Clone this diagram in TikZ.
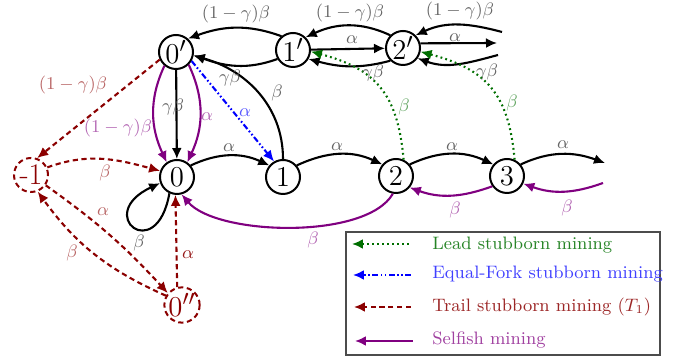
\documentclass[tikz,border=0pt]{standalone}
\usetikzlibrary{arrows.meta}
\definecolor{dgreen}{RGB}{0,110,0}
\definecolor{dred}{RGB}{139,0,0}
\definecolor{dpurple}{RGB}{128,0,128}
\definecolor{dblue}{RGB}{0,0,255}
\begin{document}
\begin{tikzpicture}[x=0.5pt,y=0.5pt,
  st/.style={circle,draw,line width=1pt,minimum size=17pt,inner sep=0pt,font=\fontsize{15}{18}\selectfont},
  dst/.style={st,draw=dred,text=dred,dash pattern=on 2.6pt off 1.8pt},
  arr/.style={-{Latex[length=5.5pt,width=5pt]},line width=1.05pt},
  blk/.style={arr,black},
  sel/.style={arr,dpurple},
  trl/.style={arr,dred,dash pattern=on 2.6pt off 1.8pt},
  lead/.style={arr,dgreen,dash pattern=on 0.9pt off 1.6pt},
  eqf/.style={arr,dblue,dash pattern=on 3pt off 1.2pt on 0.8pt off 1.2pt on 0.8pt off 1.2pt},
  lab/.style={font=\fontsize{9.5}{11}\selectfont,inner sep=1pt},
  lk/.style={lab,text=black!60},
  lg/.style={lab,text=dgreen!60},
  lb/.style={lab,text=dblue!65},
  lp/.style={lab,text=dpurple!60},
  lr/.style={lab,text=dred!60},
  lrd/.style={lab,text=dred!90},
  leg/.style={anchor=west,font=\fontsize{9}{11}\selectfont,inner sep=0pt}
]
\useasboundingbox (0,0) rectangle (677,358);
% states
\node[st] (p0) at (176,306) {$0'$};
\node[st] (p1) at (293,308) {$1'$};
\node[st] (p2) at (403,310) {$2'$};
\node[st] (s0) at (177,181) {$0$};
\node[st] (s1) at (283,181) {$1$};
\node[st] (s2) at (396,182) {$2$};
\node[st] (s3) at (507,182) {$3$};
\node[dst] (m1) at (31,183) {-1};
\node[dst] (pp) at (182,53) {$0''$};
\coordinate (r1) at (497,315);
\coordinate (r2) at (502,326);
\coordinate (r3) at (498,303);
\coordinate (r4) at (605,195);
\coordinate (r5) at (603,175);
% top row
\draw[blk] (p1.130) to[out=160,in=20] (p0.48);
\draw[blk] (p1.-150) to[out=-160,in=-20] (p0.-10);
\draw[blk] (s1.90) to[out=90,in=-15] (p0.-12);
\draw[blk] (p1) -- (p2);
\draw[blk] (p2.135) to[out=155,in=25] (p1.45);
\draw[blk] (p2.-135) to[out=-165,in=-15] (p1.-30);
\draw[blk] (p2.15) -- (r1);
\draw[blk] (r2) to[out=165,in=25] (p2.45);
\draw[blk] (r3) to[out=-165,in=-20] (p2.-35);
% lead stubborn
\draw[lead] (s2.65) to[out=95,in=-15,looseness=1.2] (p1.-5);
\draw[lead] (s3.65) to[out=95,in=-15,looseness=1.2] (p2.-12);
% equal fork
\draw[eqf] (p0.-30) -- (s1.120);
% 0' -> 0
\draw[blk] (p0) -- (s0);
\draw[sel] (p0.-130) to[out=-115,in=115] (s0.125);
\draw[sel] (p0.-45) to[out=-65,in=65] (s0.55);
% bottom row
\draw[blk] (s0.40) to[out=25,in=155] (s1.140);
\draw[blk] (s1.40) to[out=25,in=155] (s2.140);
\draw[blk] (s2.40) to[out=25,in=155] (s3.140);
\draw[blk] (s3.40) to[out=25,in=160] (r4);
\draw[blk] (s0.-115) .. controls +(-100:74) and +(205:74) .. (s0.200);
\draw[sel] (s2.-100) to[out=-120,in=-50,looseness=0.65] (s0.-75);
\draw[sel] (s3.-145) to[out=-160,in=-20] (s2.-40);
\draw[sel] (r5) to[out=-160,in=-20] (s3.-25);
% trail stubborn
\draw[trl] (p0.-155) -- (m1.70);
\draw[trl] (m1.25) to[out=20,in=165] (s0.160);
\draw[trl] (m1.-35) to[bend left=6] (pp.140);
\draw[trl] (pp.150) to[bend left=15] (m1.-68);
\draw[trl] (pp.105) -- (s0.-95);
% labels
\node[lk] (la1) at (236,344) {$(1-\gamma)\beta$};
\node[lk] (la2) at (350,345) {$(1-\gamma)\beta$};
\node[lk] (la3) at (460,347) {$(1-\gamma)\beta$};
\node[lk] (la4) at (352,318) {$\alpha$};
\node[lk] (la5) at (455,320) {$\alpha$};
\node[lk] (la6) at (230,280) {$\gamma\beta$};
\node[lk] (la7) at (373,285) {$\gamma\beta$};
\node[lk] (la8) at (487,286) {$\gamma\beta$};
\node[lk] (la9) at (277,265) {$\beta$};
\node[lb] (la10) at (245,245) {$\alpha$};
\node[lk] (la11) at (173,251) {$\gamma\beta$};
\node[lp] (la12) at (118,230) {$(1-\gamma)\beta$};
\node[lp] (la13) at (207,241) {$\alpha$};
\node[lr] (la14) at (73,273) {$(1-\gamma)\beta$};
\node[lr] (la15) at (105,185) {$\beta$};
\node[lk] (la16) at (229,210) {$\alpha$};
\node[lk] (la17) at (337,211) {$\alpha$};
\node[lk] (la18) at (452,211) {$\alpha$};
\node[lk] (la19) at (563,213) {$\alpha$};
\node[lg] (la20) at (404,251) {$\beta$};
\node[lg] (la21) at (512,255) {$\beta$};
\node[lk] (la22) at (139,115) {$\beta$};
\node[lp] (la23) at (313,118) {$\beta$};
\node[lp] (la24) at (455,148) {$\beta$};
\node[lp] (la25) at (567,150) {$\beta$};
\node[lr] (la26) at (103,146) {$\alpha$};
\node[lr] (la27) at (72,105) {$\beta$};
\node[lrd] (la28) at (188,103) {$\alpha$};
% legend
\node[draw=black!70,line width=0.6pt,minimum width=157pt,minimum height=61.5pt,inner sep=0pt] (legbox) at (503,64.5) {};
\coordinate (g1) at (409,114); \coordinate (g0) at (352,114);
\coordinate (b1) at (411,83);  \coordinate (b0) at (353,83);
\coordinate (d1) at (411,51);  \coordinate (d0) at (354,51);
\coordinate (q1) at (413,17);  \coordinate (q0) at (355,17);
\draw[lead] (g1) -- (g0);
\draw[eqf] (b1) -- (b0);
\draw[trl] (d1) -- (d0);
\draw[sel] (q1) -- (q0);
\node[leg,text=dgreen!85] (tg) at (432,113) {Lead stubborn mining};
\node[leg,text=dblue!75] (tb) at (432,84) {Equal-Fork stubborn mining};
\node[leg,text=dred!85] (td) at (432,51) {Trail stubborn mining ($T_1$)};
\node[leg,text=dpurple!75] (tq) at (432,18) {Selfish mining};
\end{tikzpicture}
\end{document}
